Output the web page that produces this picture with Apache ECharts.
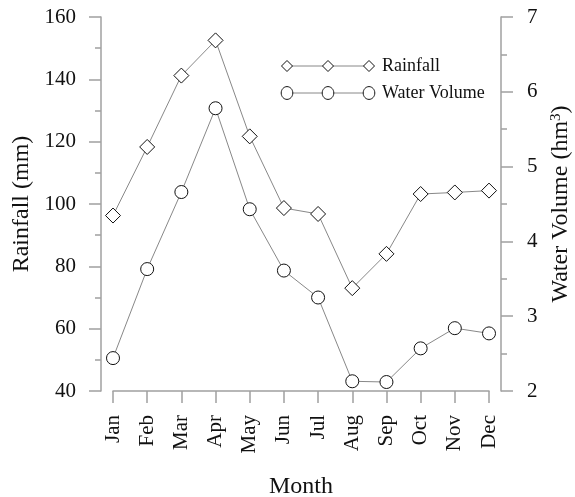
<!DOCTYPE html>
<html>
<head>
<meta charset="utf-8">
<script src="https://cdn.jsdelivr.net/npm/echarts@6/dist/echarts.min.js"></script>
<style>html,body{margin:0;padding:0;background:#fff}#c{width:575px;height:497px}</style>
</head>
<body>
<div id="c"></div>
<script>
const months = ['Jan','Feb','Mar','Apr','May','Jun','Jul','Aug','Sep','Oct','Nov','Dec'];
const rainfall = [96.3, 118.3, 141.2, 152.5, 121.7, 98.7, 96.8, 73.0, 84.0, 103.2, 103.7, 104.3];
const waterVolume = [2.44, 3.63, 4.66, 5.78, 4.43, 3.61, 3.25, 2.13, 2.12, 2.57, 2.84, 2.77];
const rainTicks = [40, 160, 20];
const volTicks = [2, 7, 1];
const legendNames = ['Rainfall', 'Water Volume'];

const FONT = '"Liberation Serif", "Times New Roman", serif';
const axisGray = '#a0a0a0';
const chart = echarts.init(document.getElementById('c'), null, {renderer: 'canvas'});

const markerStyle = {color: '#ffffff', borderColor: '#111', borderWidth: 1};

// legend drawn as graphic: a grey sample line with three markers, then the name
const legendRows = [
  {sym: 'diamond', y: 66, name: legendNames[0]},
  {sym: 'circle', y: 93, name: legendNames[1]}
];
const legendX = [287, 328, 369];
const g = [];
legendRows.forEach(it => {
  g.push({type: 'line', z: 99, shape: {x1: legendX[0], y1: it.y, x2: legendX[2], y2: it.y},
    style: {stroke: '#888', lineWidth: 1}});
  legendX.forEach(x => {
    if (it.sym === 'diamond') {
      g.push({type: 'polygon', z: 100, shape: {points: [[x-5.5, it.y],[x, it.y-5.5],[x+5.5, it.y],[x, it.y+5.5]]},
        style: {fill: '#fff', stroke: '#111', lineWidth: 1}});
    } else {
      g.push({type: 'ellipse', z: 100, shape: {cx: x, cy: it.y, rx: 5.8, ry: 6.4}, style: {fill: '#fff', stroke: '#111', lineWidth: 1}});
    }
  });
  g.push({type: 'text', z: 100, x: 382, y: it.y, style: {text: it.name, font: '18px ' + FONT, fill: '#111',
    textVerticalAlign: 'middle', textAlign: 'left', verticalAlign: 'middle', align: 'left'}});
});

chart.setOption({
  animation: false,
  backgroundColor: '#fff',
  grid: {left: 113, right: 86, top: 17, bottom: 106, containLabel: false, outerBoundsMode: 'none'},
  xAxis: {
    type: 'category', data: months, boundaryGap: false,
    name: 'Month', nameLocation: 'middle', nameGap: 84,
    nameTextStyle: {fontFamily: FONT, fontSize: 24, color: '#111'},
    axisLine: {lineStyle: {color: axisGray, width: 1.5}},
    axisTick: {length: 12, lineStyle: {color: axisGray, width: 1.5}},
    axisLabel: {rotate: 90, margin: 24, fontFamily: FONT, fontSize: 21, color: '#111'},
    splitLine: {show: false}
  },
  yAxis: [{
    type: 'value', min: rainTicks[0], max: rainTicks[1], interval: rainTicks[2],
    position: 'left', offset: 12,
    name: 'Rainfall (mm)', nameLocation: 'middle', nameRotate: 90, nameGap: 59,
    nameTextStyle: {fontFamily: FONT, fontSize: 24, color: '#111'},
    axisLine: {show: true, lineStyle: {color: axisGray, width: 1.5}},
    axisTick: {show: true, length: 12, lineStyle: {color: axisGray, width: 1.5}},
    minorTick: {show: true, splitNumber: 2, length: 6, lineStyle: {color: axisGray, width: 1.5}},
    axisLabel: {margin: 25, fontFamily: FONT, fontSize: 21, color: '#111'},
    splitLine: {show: false}
  }, {
    type: 'value', min: volTicks[0], max: volTicks[1], interval: volTicks[2],
    position: 'right', offset: 12,
    name: '{a|Water Volume (hm}{b|3}{a|)}', nameLocation: 'middle', nameRotate: 90, nameGap: 44,
    nameTextStyle: {fontFamily: FONT, fontSize: 24, color: '#111',
      rich: {a: {fontFamily: FONT, fontSize: 24, color: '#111', lineHeight: 24, verticalAlign: 'middle'},
             b: {fontFamily: FONT, fontSize: 15, color: '#111', lineHeight: 19, verticalAlign: 'top'}}},
    axisLine: {show: true, lineStyle: {color: axisGray, width: 1.5}},
    axisTick: {show: true, length: 12, lineStyle: {color: axisGray, width: 1.5}},
    minorTick: {show: true, splitNumber: 2, length: 6, lineStyle: {color: axisGray, width: 1.5}},
    axisLabel: {margin: 26, fontFamily: FONT, fontSize: 21, color: '#111'},
    splitLine: {show: false}
  }],
  series: [{
    name: legendNames[0], type: 'line', yAxisIndex: 0, data: rainfall,
    symbol: 'diamond', symbolSize: 15, showAllSymbol: true,
    lineStyle: {color: '#888', width: 1},
    itemStyle: markerStyle, z: 3
  }, {
    name: legendNames[1], type: 'line', yAxisIndex: 1, data: waterVolume,
    symbol: 'circle', symbolSize: 13, showAllSymbol: true,
    lineStyle: {color: '#888', width: 1},
    itemStyle: markerStyle, z: 3
  }],
  graphic: g
});
</script>
</body>
</html>
